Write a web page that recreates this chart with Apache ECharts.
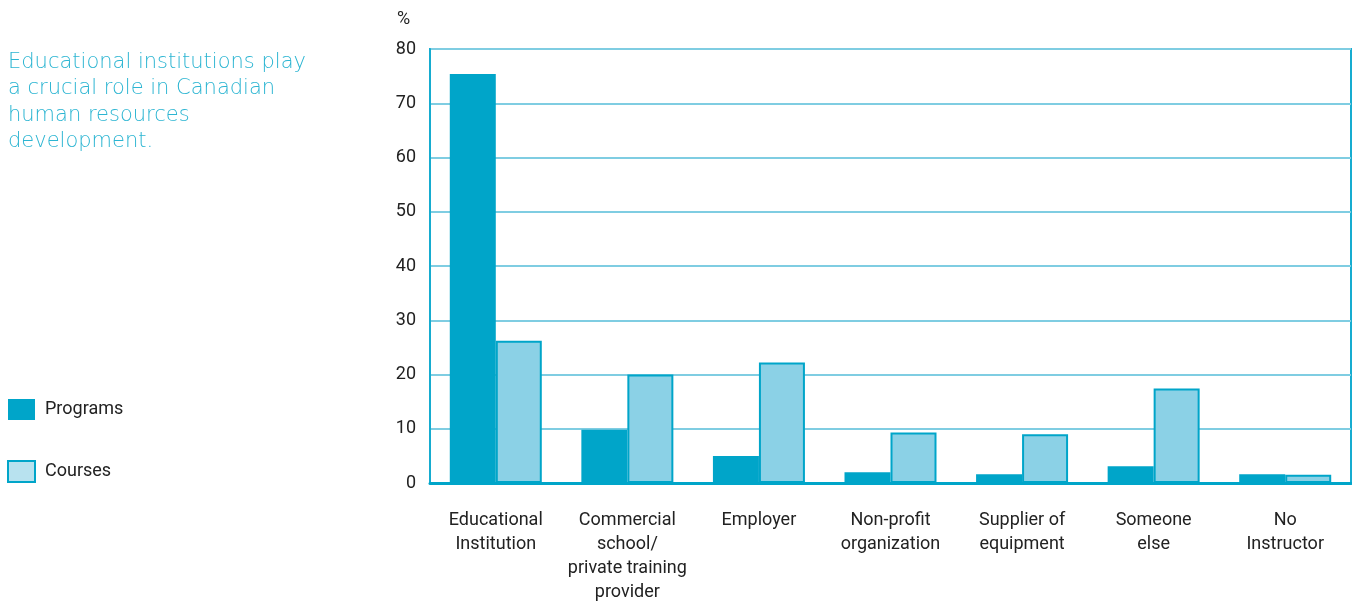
<!DOCTYPE html>
<html>
<head>
<meta charset="utf-8">
<script src="https://cdn.jsdelivr.net/npm/echarts@6/dist/echarts.min.js"></script>
<style>
  html, body { margin: 0; padding: 0; background: #fff; }
  #chart { width: 1352px; height: 604px; }
</style>
</head>
<body>
<div id="chart"></div>
<script>
var categories = ["Educational\nInstitution", "Commercial\nschool/\nprivate training\nprovider", "Employer",
  "Non-profit\norganization", "Supplier of\nequipment", "Someone\nelse", "No\nInstructor"];
var programs = [75.4, 9.8, 5.0, 2.0, 1.6, 3.1, 1.6];
var courses = [26.2, 20.0, 22.2, 9.3, 9.0, 17.4, 1.5];
var yTicks = [0, 10, 20, 30, 40, 50, 60, 70, 80];
var note = ["Educational institutions play", "a crucial role in Canadian", "human resources", "development."];

var font = "'Liberation Sans Narrow', 'Roboto', sans-serif";
var dark = "#00a5c9";
var light = "#8bd1e6";

var chart = echarts.init(document.getElementById("chart"));
chart.setOption({
  animation: false,
  textStyle: { fontFamily: font },
  grid: {
    left: 430, right: 1, top: 49, bottom: 121,
    show: true, borderColor: "#16acd0", borderWidth: 2
  },
  legend: {
    orient: "vertical", left: 7, top: 399, padding: 0,
    itemWidth: 27, itemHeight: 21, itemGap: 40,
    icon: "rect",
    textStyle: { fontFamily: font, fontSize: 18, color: "#222", padding: [0, 0, 0, 5] },
    data: [
      { name: "Programs", itemStyle: { color: dark, borderWidth: 0 } },
      { name: "Courses", itemStyle: { color: "#b8e2ef", borderColor: dark, borderWidth: 2 } }
    ]
  },
  graphic: [
    {
      type: "text", left: 8, top: 49,
      style: {
        text: note.join("\n"), fill: "#2cb5d2",
        font: "300 21px 'DejaVu Sans', sans-serif", lineHeight: 26.5
      }
    },
    {
      type: "text", left: 397, top: 10,
      style: { text: "%", fill: "#222", font: "18px " + font }
    }
  ],
  xAxis: {
    type: "category",
    data: categories,
    axisLine: { lineStyle: { color: dark, width: 3 } },
    axisTick: { show: false },
    axisLabel: {
      interval: 0, margin: 25, fontSize: 18, lineHeight: 24,
      color: "#222", fontFamily: font
    }
  },
  yAxis: {
    type: "value", min: 0, max: 80, interval: 10,
    axisLine: { show: true, lineStyle: { color: "#16acd0", width: 2 } },
    axisTick: { show: false },
    splitLine: { lineStyle: { color: "#7fcde2", width: 2 } },
    axisLabel: {
      margin: 14, fontSize: 18, color: "#222", fontFamily: font,
      formatter: function (v) { return yTicks.indexOf(v) >= 0 ? String(v) : ""; }
    }
  },
  series: [
    {
      name: "Programs", type: "bar", data: programs,
      barWidth: 46, barGap: "0%",
      itemStyle: { color: dark }
    },
    {
      name: "Courses", type: "bar", data: courses,
      barWidth: 46,
      itemStyle: { color: light, borderColor: dark, borderWidth: 2 }
    }
  ]
});
</script>
</body>
</html>
